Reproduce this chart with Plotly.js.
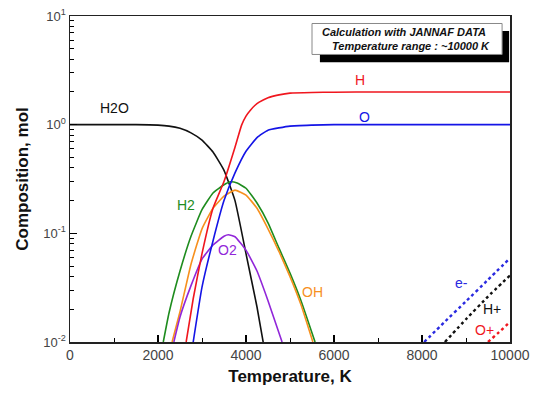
<!DOCTYPE html>
<html>
<head>
<meta charset="utf-8">
<script src="https://cdn.plot.ly/plotly-3.0.1.min.js"></script>
<style>html,body{margin:0;padding:0;background:#fff;}#chart{width:540px;height:393px;}</style>
</head>
<body>
<div id="chart"></div>
<script>
// Temperature (K) and composition (mol)
var h2oT = [0, 1000, 1500, 2000, 2250, 2500, 2750, 3000, 3250, 3500, 3750, 4000, 4250, 4400];
var h2oV = [1.0, 1.0, 1.0, 0.99, 0.97, 0.925, 0.84, 0.72, 0.56, 0.38, 0.20, 0.065, 0.021, 0.0095];

var hT = [2640, 2800, 3000, 3250, 3500, 3750, 3900, 4000, 4100, 4200, 4300, 4500, 4750, 5000, 5500, 6000, 7000, 8000, 10000];
var hV = [0.01, 0.025, 0.065, 0.17, 0.3, 0.62, 0.99, 1.2, 1.36, 1.5, 1.61, 1.77, 1.88, 1.95, 1.98, 1.99, 2.0, 2.0, 2.0];

var oT = [2800, 3000, 3250, 3500, 3750, 4000, 4250, 4500, 5000, 5500, 6000, 7000, 10000];
var oV = [0.01, 0.032, 0.085, 0.2, 0.36, 0.57, 0.76, 0.89, 0.97, 0.99, 1.0, 1.0, 1.0];

var h2T = [2120, 2250, 2500, 2750, 3000, 3250, 3500, 3650, 3800, 4000, 4250, 4500, 4750, 5000, 5250, 5570];
var h2V = [0.01, 0.0185, 0.045, 0.094, 0.165, 0.235, 0.28, 0.298, 0.29, 0.26, 0.19, 0.125, 0.073, 0.043, 0.024, 0.01];

var ohT = [2320, 2500, 2750, 3000, 3250, 3500, 3750, 4000, 4250, 4500, 4750, 5000, 5250, 5520];
var ohV = [0.01, 0.019, 0.052, 0.11, 0.17, 0.22, 0.25, 0.225, 0.17, 0.11, 0.068, 0.04, 0.022, 0.01];

var o2T = [2360, 2500, 2750, 3000, 3250, 3500, 3600, 3750, 4000, 4250, 4500, 4820];
var o2V = [0.01, 0.017, 0.033, 0.058, 0.078, 0.094, 0.097, 0.093, 0.07, 0.045, 0.024, 0.01];

var eT = [8050, 8500, 9000, 9500, 10000];
var eV = [0.01, 0.0151, 0.0237, 0.0374, 0.059];

var hpT = [8520, 9000, 9500, 10000];
var hpV = [0.01, 0.0162, 0.0262, 0.041];

var opT = [9500, 9750, 10000];
var opV = [0.01, 0.0123, 0.0153];

var yTickVals = [0.01, 0.1, 1, 10];
var yTickText = ['10<sup>-2</sup>', '10<sup>-1</sup>', '10<sup>0</sup>', '10<sup>1</sup>'];
var xTickVals = [0, 2000, 4000, 6000, 8000, 10000];
var xTickText = ['0', '2000', '4000', '6000', '8000', '10000'];

var minorY = [];
[0.01, 0.1, 1].forEach(function (d) { for (var k = 2; k <= 9; k++) minorY.push(d * k); });

var C = {h2o: '#111111', h: '#f0161e', o: '#1414e6', h2: '#1e8c1e', oh: '#f7901e', o2: '#9126d9'};

function line(x, y, color, dash, w) {
  return {x: x, y: y, type: 'scatter', mode: 'lines', line: {color: color, width: w || 1.6, dash: dash || 'solid', shape: 'spline', smoothing: 0.4}, hoverinfo: 'skip', showlegend: false};
}

var data = [
  line(h2oT, h2oV, C.h2o),
  line(h2T, h2V, C.h2),
  line(ohT, ohV, C.oh),
  line(o2T, o2V, C.o2),
  line(hT, hV, C.h),
  line(oT, oV, C.o),
  line(eT, eV, '#2a2ae0', 'dot', 2.4),
  line(hpT, hpV, '#111111', 'dot', 2.4),
  line(opT, opV, '#f0161e', 'dot', 2.4)
];

var labelFont = {family: 'Arial, Liberation Sans, sans-serif', size: 14};
// label positions: x in K, y given as log10(mol) for the log axis
function lab(text, x, logy, color) {
  return {text: text, x: x, y: logy, xref: 'x', yref: 'y', xanchor: 'center', yanchor: 'middle', showarrow: false, font: Object.assign({}, labelFont, {color: color})};
}
function pxToLog(py) { return 1 - (py - 16) / 108.67; }

var layout = {
  width: 540, height: 393,
  margin: {l: 70, r: 30, t: 16, b: 51},
  paper_bgcolor: '#fff', plot_bgcolor: '#fff',
  font: {family: 'Arial, Liberation Sans, sans-serif', color: '#444'},
  xaxis: {
    range: [0, 10000], tickvals: xTickVals, ticktext: xTickText, ticks: 'inside', ticklen: 7, tickwidth: 1.2, tickcolor: '#000',
    minor: {ticks: 'inside', ticklen: 4, dtick: 1000, tickcolor: '#000', tickwidth: 1},
    showline: true, linecolor: '#222', linewidth: 1.5, mirror: true, showgrid: false, zeroline: false,
    tickfont: {size: 14, color: '#444'},
    title: {text: '<b>Temperature, K</b>', font: {size: 17, color: '#111'}, standoff: 8}
  },
  yaxis: {
    type: 'log', range: [-2, 1], tickvals: yTickVals, ticktext: yTickText, ticks: 'inside', ticklen: 7, tickwidth: 1.2, tickcolor: '#000',
    minor: {ticks: 'inside', ticklen: 4, tickvals: minorY, tickcolor: '#000', tickwidth: 1},
    showline: true, linecolor: '#222', linewidth: 1.5, mirror: true, showgrid: false, zeroline: false,
    tickfont: {size: 13, color: '#444'},
    title: {text: '<b>Composition, mol</b>', font: {size: 17, color: '#111'}, standoff: 10}
  },
  shapes: [
    {type: 'rect', xref: 'paper', yref: 'paper', x0: 0.568, x1: 0.998, y0: 0.858, y1: 0.954, fillcolor: '#000', line: {width: 0}, layer: 'below'},
    {type: 'rect', xref: 'paper', yref: 'paper', x0: 0.55, x1: 0.982, y0: 0.882, y1: 0.977, fillcolor: '#fff', line: {color: '#888', width: 1}, layer: 'below'}
  ],
  annotations: [
    {text: '<b><i>Calculation with JANNAF DATA</i></b>', xref: 'paper', yref: 'paper', x: 0.76, y: 0.951, xanchor: 'center', yanchor: 'middle', showarrow: false, font: {size: 11, color: '#111'}},
    {text: '<b><i>Temperature range : ~10000 K</i></b>', xref: 'paper', yref: 'paper', x: 0.775, y: 0.909, xanchor: 'center', yanchor: 'middle', showarrow: false, font: {size: 11, color: '#111'}},
    lab('H2O', 1000, pxToLog(108), '#111'),
    lab('H', 6600, pxToLog(80), C.h),
    lab('O', 6700, pxToLog(117), C.o),
    lab('H2', 2640, pxToLog(205), C.h2),
    lab('O2', 3590, pxToLog(250), C.o2),
    lab('OH', 5520, pxToLog(292), C.oh),
    lab('e-', 8900, pxToLog(283), '#2a2ae0'),
    lab('H+', 9600, pxToLog(309), '#111'),
    lab('O+', 9430, pxToLog(330), C.h)
  ]
};

Plotly.newPlot('chart', data, layout, {displayModeBar: false, staticPlot: true});
</script>
</body>
</html>
